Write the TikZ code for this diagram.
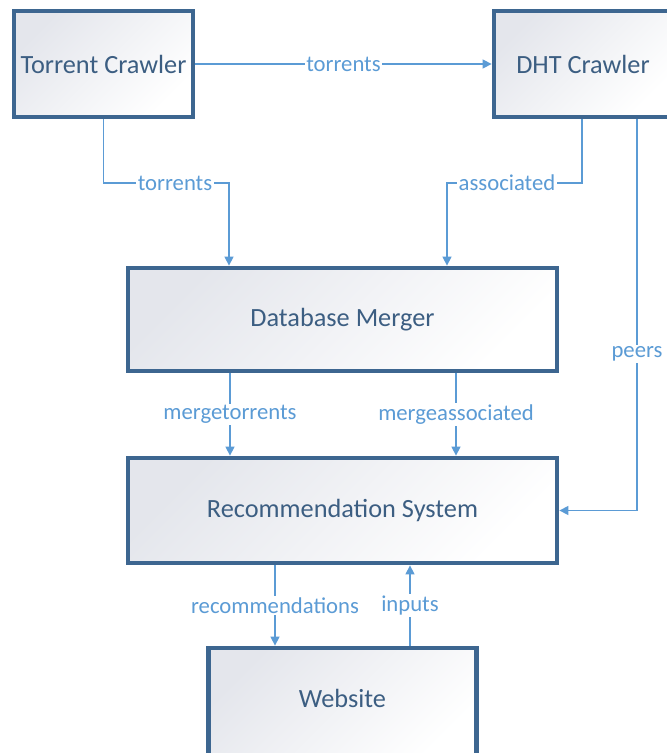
\documentclass[tikz,border=0pt]{standalone}
\usepackage{fontspec}
\setmainfont{Carlito}
\usetikzlibrary{arrows.meta}
\definecolor{boxline}{HTML}{3D6690}
\definecolor{boxtext}{HTML}{3C5E82}
\definecolor{flow}{HTML}{5B9BD5}
\definecolor{boxshade}{HTML}{E4E6EC}
\tikzset{
  box/.style={draw=boxline, line width=4.8pt, top color=boxshade, bottom color=white,
    shading angle=45, text=boxtext, font=\fontsize{26.3}{31}\selectfont,
    inner sep=0pt, anchor=center},
  conn/.style={draw=flow, line width=1.4pt, -{Triangle[length=9pt,width=9pt]}},
  lbl/.style={fill=white, text=flow, font=\fontsize{22.7}{27}\selectfont,
    inner sep=1.5pt}
}
\begin{document}
\begin{tikzpicture}[x=1pt,y=-1pt]
  \clip (0,0) rectangle (667,753);
  \fill[white] (0,0) rectangle (667,753);

  % processing stages
  \node[box, minimum width=179, minimum height=106] (tc) at (103.5,64) {Torrent Crawler};
  \node[box, minimum width=178, minimum height=106] (dht) at (583,64) {DHT Crawler};
  \node[box, minimum width=429, minimum height=103] (dbm) at (342.5,319.5) {Database Merger};
  \node[box, minimum width=429, minimum height=105] (rec) at (342.5,510.5) {Recommendation System};
  \node[box, minimum width=268, minimum height=112] (web) at (342.5,704) {};
  \node[text=boxtext, font=\fontsize{26.3}{31}\selectfont] (webtxt) at (342.5,698) {Website};

  % data flows
  \draw[conn] (tc.east) -- node[lbl]{torrents} (dht.west);
  \draw[conn] (tc.south) |- (175,183) node[lbl]{torrents} -| ([xshift=-113.5]dbm.north);
  \draw[conn] ([xshift=-1]dht.south) |- (507,183) node[lbl]{associated} -| ([xshift=104.5]dbm.north);
  \draw[conn] ([xshift=54]dht.south) |- node[lbl, pos=0.3]{peers} (rec.east);
  \draw[conn] ([xshift=-112.5]dbm.south) -- node[lbl]{mergetorrents} ([xshift=-112.5]rec.north);
  \draw[conn] ([xshift=113.5]dbm.south) -- node[lbl]{mergeassociated} ([xshift=113.5]rec.north);
  \draw[conn] ([xshift=-67.5]rec.south) -- node[lbl]{recommendations} ([xshift=-67.5]web.north);
  \draw[conn] ([xshift=67.5]web.north) -- node[lbl]{inputs} ([xshift=67.5]rec.south);
\end{tikzpicture}
\end{document}
